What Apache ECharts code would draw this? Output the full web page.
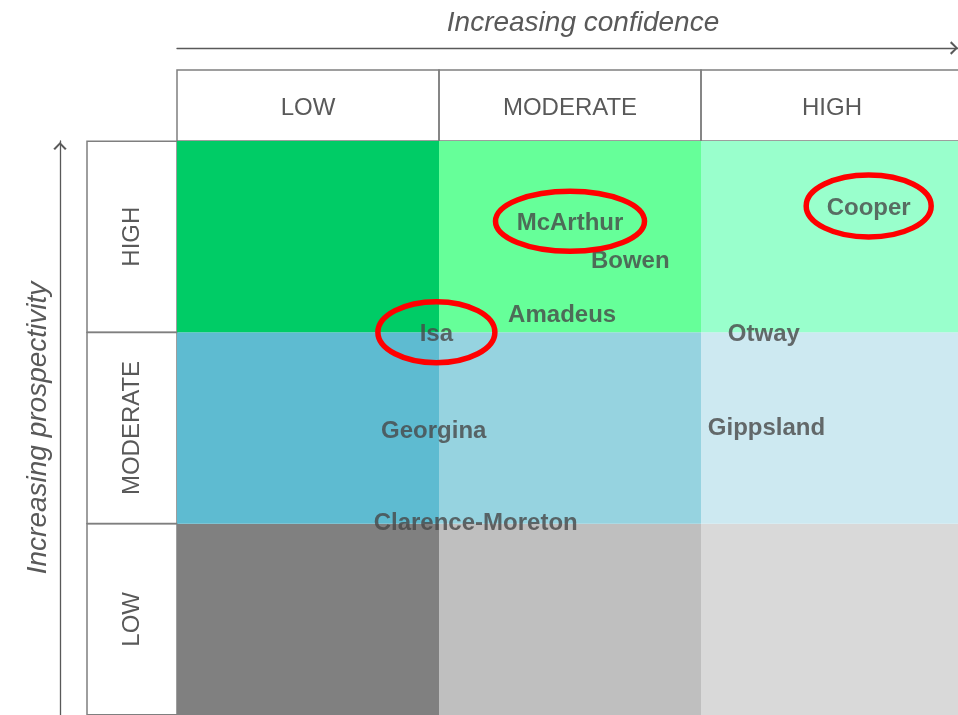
<!DOCTYPE html>
<html>
<head>
<meta charset="utf-8">
<script src="https://cdn.jsdelivr.net/npm/echarts@6/dist/echarts.min.js"></script>
<style>
html,body{margin:0;padding:0;background:#fff;}
#chart{width:958px;height:715px;}
</style>
</head>
<body>
<div id="chart"></div>
<script>
// ---- data ----
const confidenceLevels = ['LOW', 'MODERATE', 'HIGH'];
const prospectivityLevels = ['LOW', 'MODERATE', 'HIGH'];
const basinNames = ['McArthur', 'Bowen', 'Amadeus', 'Isa', 'Cooper', 'Otway', 'Georgina', 'Gippsland', 'Clarence-Moreton'];
const basinConfidence = [1.50, 1.73, 1.47, 0.99, 2.64, 2.24, 0.98, 2.25, 1.14];
const basinProspectivity = [2.57, 2.37, 2.09, 1.99, 2.65, 1.99, 1.48, 1.50, 1.00];
const highlightedBasins = ['McArthur', 'Cooper', 'Isa'];

// ---- styles ----
const cellColors = [
  ['#808080', '#bfbfbf', '#d9d9d9'],   // LOW prospectivity
  ['#5ebbd1', '#96d3e0', '#cde9f1'],   // MODERATE
  ['#00cc66', '#66ff99', '#99ffcc']    // HIGH
];
const ellipseRadii = { 'McArthur': [74.5, 30], 'Cooper': [62.5, 31], 'Isa': [58.5, 30.5] };
const textGray = '#595959';
const lineGray = '#7f7f7f';
const FONT = 'Liberation Sans, Arial, sans-serif';

const cellData = [];
prospectivityLevels.forEach((p, yi) => {
  confidenceLevels.forEach((c, xi) => { cellData.push([xi, yi]); });
});
const labelData = basinNames.map((n, i) => ({ name: n, value: [basinConfidence[i], basinProspectivity[i]] }));
const ellipseData = highlightedBasins.map(n => {
  const i = basinNames.indexOf(n);
  return { name: n, value: [basinConfidence[i], basinProspectivity[i]] };
});

const arrowPath = 'path://M10,0 L20,10 L17.5,12 L10,4 L2.5,12 L0,10 Z';

const chart = echarts.init(document.getElementById('chart'), null, { renderer: 'canvas' });
chart.setOption({
  animation: false,
  backgroundColor: '#ffffff',
  grid: { left: 177, top: 141, width: 786, height: 574, containLabel: false, outerBoundsMode: 'none' },
  xAxis: [
    {
      type: 'category', data: confidenceLevels, position: 'top',
      axisLine: { show: false }, axisTick: { show: false }, splitLine: { show: false },
      axisLabel: {
        interval: 0, margin: 0, fontSize: 24, color: textGray, fontFamily: FONT,
        width: 262, height: 65, lineHeight: 65, padding: [6, 0, 0, 0],
        borderColor: lineGray, borderWidth: 1.5, overflow: 'none'
      }
    },
    { type: 'value', min: 0, max: 3, show: false },
    {
      type: 'value', position: 'top', offset: 93, min: 0, max: 1,
      axisLine: { show: true, symbol: ['none', arrowPath], symbolSize: [14, 8], symbolOffset: [0, -9],
        lineStyle: { color: '#595959', width: 1.3 } },
      axisTick: { show: false }, axisLabel: { show: false }, splitLine: { show: false },
      name: 'Increasing confidence', nameLocation: 'middle', nameGap: 11,
      nameTextStyle: { fontSize: 28, fontStyle: 'italic', color: textGray, fontFamily: FONT, padding: [0, 0, 0, 26] }
    }
  ],
  yAxis: [
    {
      type: 'category', data: prospectivityLevels, position: 'left',
      axisLine: { show: false }, axisTick: { show: false }, splitLine: { show: false },
      axisLabel: {
        interval: 0, margin: 0, rotate: 90, fontSize: 24, color: textGray, fontFamily: FONT,
        width: 191, height: 90, lineHeight: 90, padding: 0,
        borderColor: lineGray, borderWidth: 1.5, overflow: 'none'
      }
    },
    { type: 'value', min: 0, max: 3, show: false },
    {
      type: 'value', position: 'left', offset: 117, min: 0, max: 1,
      axisLine: { show: true, symbol: ['none', arrowPath], symbolSize: [14, 8], symbolOffset: [0, -5],
        lineStyle: { color: '#595959', width: 1.3 } },
      axisTick: { show: false }, axisLabel: { show: false }, splitLine: { show: false },
      name: 'Increasing prospectivity', nameLocation: 'middle', nameGap: 8, nameRotate: 90,
      nameTextStyle: { fontSize: 28, fontStyle: 'italic', color: textGray, fontFamily: FONT }
    }
  ],
  series: [
    {
      type: 'custom', xAxisIndex: 1, yAxisIndex: 1, data: cellData, silent: true, z: 1,
      renderItem: function (params, api) {
        const x = api.value(0), y = api.value(1);
        const p0 = api.coord([x, y + 1]);
        const p1 = api.coord([x + 1, y]);
        return { type: 'rect', shape: { x: p0[0], y: p0[1], width: p1[0] - p0[0], height: p1[1] - p0[1] },
          style: { fill: cellColors[y][x] } };
      }
    },
    {
      type: 'scatter', xAxisIndex: 1, yAxisIndex: 1, data: labelData, z: 3, silent: true,
      symbolSize: 1, itemStyle: { color: 'rgba(0,0,0,0)' },
      label: { show: true, position: 'inside', formatter: '{b}', fontSize: 24, fontWeight: 'bold',
        color: '#474747', fontFamily: FONT }
    },
    {
      type: 'custom', xAxisIndex: 1, yAxisIndex: 1, data: ellipseData, silent: true, z: 4,
      renderItem: function (params, api) {
        const c = api.coord([api.value(0), api.value(1)]);
        const r = ellipseRadii[highlightedBasins[params.dataIndex]];
        return { type: 'ellipse', shape: { cx: c[0], cy: c[1] - 2, rx: r[0], ry: r[1] },
          style: { fill: 'none', stroke: '#ff0000', lineWidth: 5.5 } };
      }
    }
  ]
});
</script>
</body>
</html>
